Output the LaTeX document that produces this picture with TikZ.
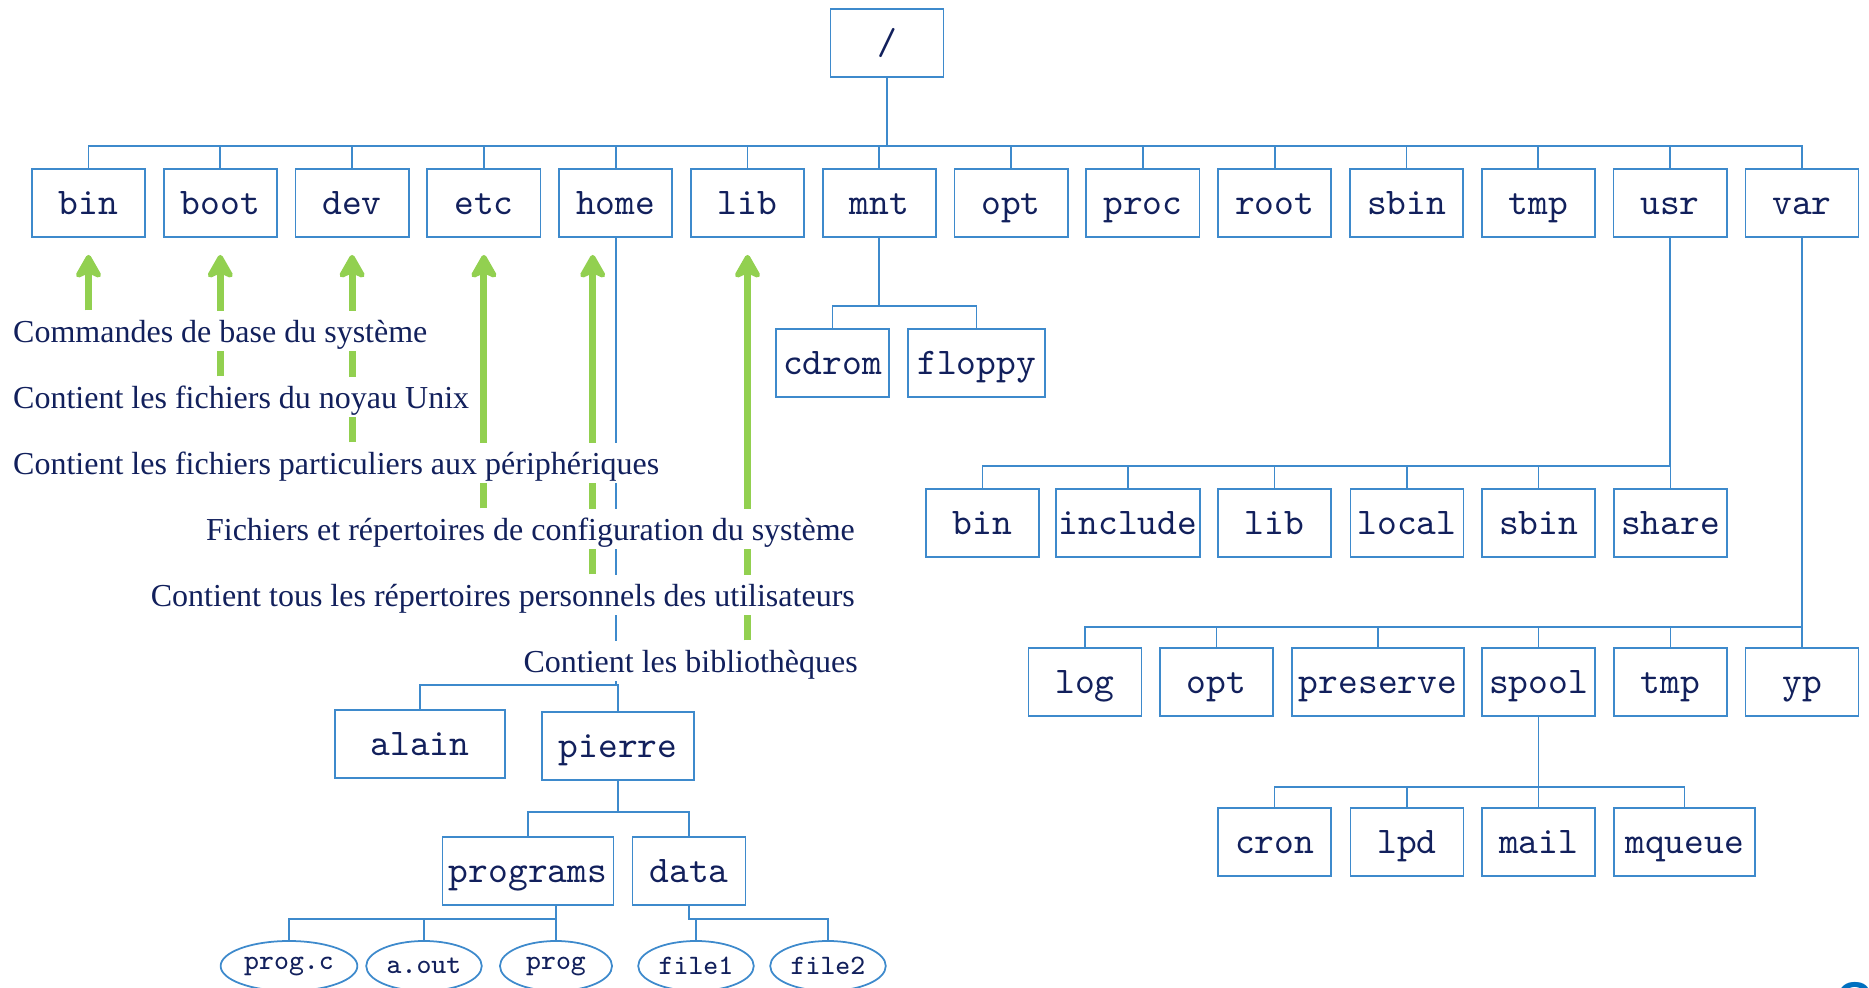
\documentclass[tikz,border=0pt]{standalone}
\usepackage{fontspec}
\setmainfont{Liberation Serif}
\setsansfont{Liberation Sans}
\usetikzlibrary{arrows.meta,shapes.geometric,backgrounds}
\definecolor{treeblue}{RGB}{62,138,204}
\definecolor{inkblue}{RGB}{18,32,92}
\definecolor{arrowgreen}{RGB}{146,208,80}
\definecolor{pageblue}{RGB}{0,112,192}

\begin{document}
\begin{tikzpicture}[x=0.01cm, y=-0.01cm,
  dir/.style={draw=treeblue, line width=0.5pt, text=inkblue, font=\ttfamily\fontsize{10.7}{11}\selectfont, minimum width=1.13cm, minimum height=0.68cm, inner sep=0pt, text height=8.2pt, text depth=1.6pt},
  file/.style={ellipse, draw=treeblue, line width=0.5pt, text=inkblue, font=\ttfamily\fontsize{8}{9}\selectfont, minimum width=1.12cm, minimum height=0.5cm, inner sep=1pt},
  note/.style={fill=white, text=inkblue, font=\fontsize{9.1}{10}\selectfont, inner xsep=1pt, inner ysep=1.2pt, text height=7.6pt, text depth=1.3pt},
  link/.style={color=treeblue, line width=0.5pt},
  hint/.style={color=arrowgreen, line width=2pt, -{Stealth[length=8pt,width=9pt,inset=2pt,round]}, shorten >=0.17cm}]

\useasboundingbox (0,0) rectangle (1869,987);

\node[dir] (r) at (887,43) {/};

\node[dir] (a1) at (88.5,203) {bin};
\node[dir] (a2) at (220.3,203) {boot};
\node[dir] (a3) at (352.1,203) {dev};
\node[dir] (a4) at (483.9,203) {etc};
\node[dir] (a5) at (615.7,203) {home};
\node[dir] (a6) at (747.5,203) {lib};
\node[dir] (a7) at (879.3,203) {mnt};
\node[dir] (a8) at (1011.1,203) {opt};
\node[dir] (a9) at (1142.9,203) {proc};
\node[dir] (a10) at (1274.7,203) {root};
\node[dir] (a11) at (1406.5,203) {sbin};
\node[dir] (a12) at (1538.3,203) {tmp};
\node[dir] (a13) at (1670.1,203) {usr};
\node[dir] (a14) at (1801.9,203) {var};

\node[dir] (b1) at (832.5,363) {cdrom};
\node[dir, minimum width=1.37cm] (b2) at (976.5,363) {floppy};

\node[dir] (c1) at (982.5,523) {bin};
\node[dir, minimum width=1.44cm] (c2) at (1128,523) {include};
\node[dir] (c3) at (1274.5,523) {lib};
\node[dir] (c4) at (1407,523) {local};
\node[dir] (c5) at (1538.5,523) {sbin};
\node[dir] (c6) at (1670.5,523) {share};

\node[dir] (d1) at (1085,682) {log};
\node[dir] (d2) at (1216.5,682) {opt};
\node[dir, minimum width=1.72cm] (d3) at (1378,682) {preserve};
\node[dir] (d4) at (1538.5,682) {spool};
\node[dir] (d5) at (1670.5,682) {tmp};
\node[dir] (d6) at (1802,682) {yp};

\node[dir] (e1) at (1274.5,842) {cron};
\node[dir] (e2) at (1407,842) {lpd};
\node[dir] (e3) at (1538.5,842) {mail};
\node[dir, minimum width=1.41cm] (e4) at (1684.5,842) {mqueue};

\node[dir, minimum width=1.70cm] (f1) at (420,744) {alain};
\node[dir, minimum width=1.52cm] (f2) at (618,746) {pierre};

\node[dir, minimum width=1.71cm] (g1) at (528,871) {programs};
\node[dir] (g2) at (689,871) {data};

\node[file] (h1) at (289,966) {prog.c};
\node[file] (h2) at (424,966) {a.out};
\node[file] (h3) at (556,966) {prog};
\node[file] (h4) at (696,966) {file1};
\node[file] (h5) at (828,966) {file2};

\node[note, anchor=base west] (t1) at (9,342) {Commandes de base du système};
\node[note, anchor=base west] (t2) at (9,408) {Contient les fichiers du noyau Unix};
\node[note, anchor=base west] (t3) at (9,474) {Contient les fichiers particuliers aux périphériques};
\node[note, anchor=base east] (t4) at (859,540) {Fichiers et répertoires de configuration du système};
\node[note, anchor=base east] (t5) at (859,606) {Contient tous les répertoires personnels des utilisateurs};
\node[note, anchor=base east] (t6) at (862,672) {Contient les bibliothèques};

\node[text=pageblue, font=\sffamily\fontsize{20}{20}\selectfont, anchor=north, inner sep=0pt] (pg) at (1855,982) {2};

\begin{scope}[on background layer]
\foreach \i in {1,...,14}
	\draw[link] (r.south) -- ++(0,68) -| (a\i.north);
\foreach \i in {1,2}
	\draw[link] (a7.south) -- ++(0,68) -| (b\i.north);
\foreach \i in {1,...,6}
	\draw[link] (a13.south) -- ++(0,228) -| (c\i.north);
\foreach \i in {1,...,6}
	\draw[link] (a14.south) -- ++(0,389) -| (d\i.north);
\foreach \i in {1,...,4}
	\draw[link] (d4.south) -- ++(0,70) -| (e\i.north);
\foreach \i in {1,2}
	\draw[link] (a5.south) -- ++(0,447) -| (f\i.north);
\foreach \i in {1,2}
	\draw[link] (f2.south) -- ++(0,31) -| (g\i.north);
\foreach \i in {1,2,3}
	\draw[link] (g1.south -| h3) -- ++(0,13) -| (h\i.north);
\foreach \i in {4,5}
	\draw[link] (g2.south) -- ++(0,13) -| (h\i.north);

\foreach \i in {1,2,3,4,6}
	\draw[hint] (t\i.north -| a\i) -- (a\i.south);
\draw[hint, transform canvas={xshift=-0.23cm}] (t5.north -| a5) -- (a5.south);
\end{scope}

\end{tikzpicture}
\end{document}
